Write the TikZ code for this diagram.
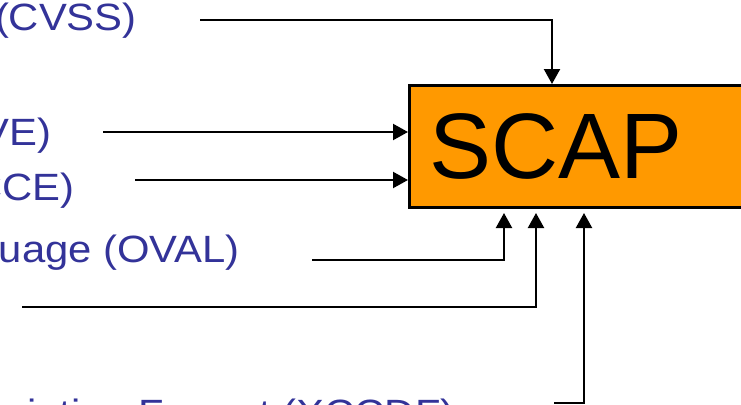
\documentclass[tikz,border=0pt]{standalone}
\usepackage{fontspec}
\setmainfont{Liberation Sans}
\newfontfamily\lblfont[FakeStretch=1.1]{Liberation Sans}
\usetikzlibrary{arrows.meta}
\definecolor{txtblue}{RGB}{51,51,153}
\definecolor{scaporange}{RGB}{255,153,0}
\tikzset{
  lbl/.style={anchor=base east, inner sep=0pt, text=txtblue, font=\lblfont\fontsize{38}{44}\selectfont},
  conn/.style={line width=2.2pt, -{Triangle[width=16pt,length=15pt]}},
  scapbox/.style={draw=black, line width=2.5pt, fill=scaporange, anchor=north west,
    minimum width=380pt, minimum height=122pt, text width=340pt, align=left,
    inner xsep=19pt, inner ysep=0pt, font=\fontsize{93}{100}\selectfont}
}
\begin{document}
\begin{tikzpicture}[x=1pt,y=-1pt]
\path[use as bounding box, clip] (0,0) rectangle (741,404);
\fill[white] (0,0) rectangle (741,404);
\node[scapbox] (scap) at (408,84) {SCAP};
\node[lbl] (cvss) at (137,31) {Common Vulnerability Scoring System (CVSS)};
\node[lbl] (cve) at (52,145) {Common Vulnerabilities and Exposures (CVE)};
\node[lbl] (cce) at (75,200) {Common Configuration Enumeration (CCE)};
\node[lbl] (oval) at (240,262) {Open Vulnerability and Assessment Language (OVAL)};
\node[lbl] (xccdf) at (455,426) {Extensible Configuration Checklist Description Format (XCCDF)};
\coordinate (s1) at (200,20);
\coordinate (s2) at (103,132);
\coordinate (s3) at (135,180);
\coordinate (s4) at (312,260);
\coordinate (s5) at (22,307);
\coordinate (s6) at (554,403);
\coordinate (e1) at (552,84);
\coordinate (e2) at (408,132);
\coordinate (e3) at (408,180);
\coordinate (e4) at (504,213);
\coordinate (e5) at (536,213);
\coordinate (e6) at (584,213);
\draw[conn] (s1) -| (e1);
\draw[conn] (s2) -- (e2);
\draw[conn] (s3) -- (e3);
\draw[conn] (s4) -| (e4);
\draw[conn] (s5) -| (e5);
\draw[conn] (s6) -| (e6);
\end{tikzpicture}
\end{document}
